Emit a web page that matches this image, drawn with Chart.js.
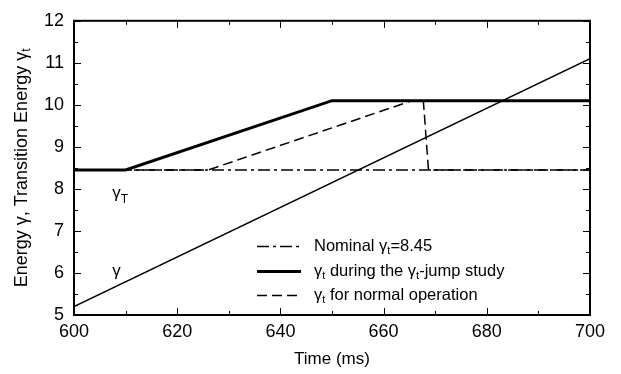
<!DOCTYPE html>
<html><head><meta charset="utf-8">
<script src="https://cdn.jsdelivr.net/npm/chart.js@4"></script>
<style>html,body{margin:0;padding:0;background:#fff}#wrap{width:621px;height:374px}</style>
</head><body><div id="wrap"><canvas id="c" width="621" height="374"></canvas></div>
<script>
const nominalT = [600, 700];
const nominalG = [8.45, 8.45];
const jumpT = [600, 610, 650, 700];
const jumpG = [8.45, 8.45, 10.1, 10.1];
const normalT = [600, 626, 665.5, 667.7, 668.7, 700];
const normalG = [8.45, 8.45, 10.1, 10.1, 8.45, 8.45];
const gammaT = [600, 700];
const gammaG = [5.2, 11.1];
const xTicks = [600, 620, 640, 660, 680, 700];
const yTicks = [5, 6, 7, 8, 9, 10, 11, 12];

const pts = (xs, ys) => xs.map((x, i) => ({x: x, y: ys[i]}));
const FONT = '"Liberation Sans", Arial, sans-serif';

const DASHDOT = [12, 4, 3, 4];
const DASH = [10, 5];

function subText(ctx, x, y, parts, size) {
  let cx = x;
  for (const [t, sub] of parts) {
    ctx.font = (sub ? Math.round(size * 0.68) : size) + 'px ' + FONT;
    ctx.fillText(t, cx, y + (sub ? size * 0.28 : 0));
    cx += ctx.measureText(t).width;
  }
  return cx - x;
}
function measureParts(ctx, parts, size) {
  let w = 0;
  for (const [t, sub] of parts) {
    ctx.font = (sub ? Math.round(size * 0.68) : size) + 'px ' + FONT;
    w += ctx.measureText(t).width;
  }
  return w;
}

const decor = {
  id: 'decor',
  afterDraw(chart) {
    const ctx = chart.ctx, a = chart.chartArea;
    const xs = chart.scales.x, ys = chart.scales.y;
    ctx.save();
    ctx.strokeStyle = '#000';
    ctx.fillStyle = '#000';
    ctx.lineWidth = 2;
    ctx.setLineDash([]);
    ctx.strokeRect(a.left, a.top, a.right - a.left, a.bottom - a.top);
    ctx.lineWidth = 1;
    ctx.beginPath();
    for (let v = 600; v <= 700; v += 10) {
      const p = Math.round(xs.getPixelForValue(v)) + 0.5;
      const L = (v % 20 === 0) ? 7 : 4;
      ctx.moveTo(p, a.bottom); ctx.lineTo(p, a.bottom - L);
      ctx.moveTo(p, a.top); ctx.lineTo(p, a.top + L);
    }
    for (let v = 5; v <= 12.001; v += 0.5) {
      const p = Math.round(ys.getPixelForValue(v)) + 0.5;
      const L = (Math.abs(v - Math.round(v)) < 1e-6) ? 7 : 4;
      ctx.moveTo(a.left, p); ctx.lineTo(a.left + L, p);
      ctx.moveTo(a.right, p); ctx.lineTo(a.right - L, p);
    }
    ctx.stroke();

    ctx.textBaseline = 'alphabetic';
    ctx.textAlign = 'left';
    subText(ctx, xs.getPixelForValue(607.4), ys.getPixelForValue(7.78), [['γ', false], ['T', true]], 17);
    subText(ctx, xs.getPixelForValue(607.4), ys.getPixelForValue(5.92), [['γ', false]], 17);

    const rows = [
      {y: 246, lw: 1.5, dash: DASHDOT, parts: [['Nominal γ', false], ['t', true], ['=8.45', false]]},
      {y: 271, lw: 3, dash: [], parts: [['γ', false], ['t', true], [' during the γ', false], ['t', true], ['-jump study', false]]},
      {y: 295, lw: 1.5, dash: DASH, parts: [['γ', false], ['t', true], [' for normal operation', false]]}
    ];
    for (const r of rows) {
      ctx.lineWidth = r.lw;
      ctx.setLineDash(r.dash);
      ctx.beginPath();
      ctx.moveTo(257, r.y + 0.5); ctx.lineTo(301, r.y + 0.5);
      ctx.stroke();
      ctx.setLineDash([]);
      ctx.textBaseline = 'middle';
      subText(ctx, 314, r.y, r.parts, 16.5);
    }

    const yparts = [['Energy γ, Transition Energy γ', false], ['t', true]];
    const w = measureParts(ctx, yparts, 18);
    ctx.translate(22, (a.top + a.bottom) / 2);
    ctx.rotate(-Math.PI / 2);
    ctx.textBaseline = 'middle';
    subText(ctx, -w / 2, 0, yparts, 18);
    ctx.restore();
  }
};

new Chart(document.getElementById('c'), {
  type: 'line',
  data: {
    datasets: [
      {label: 'Nominal', data: pts(nominalT, nominalG), borderColor: '#000', borderWidth: 1.5, borderDash: DASHDOT, pointRadius: 0, fill: false},
      {label: 'Jump', data: pts(jumpT, jumpG), borderColor: '#000', borderWidth: 3, pointRadius: 0, fill: false},
      {label: 'Normal', data: pts(normalT, normalG), borderColor: '#000', borderWidth: 1.5, borderDash: DASH, pointRadius: 0, fill: false},
      {label: 'Gamma', data: pts(gammaT, gammaG), borderColor: '#000', borderWidth: 1.5, pointRadius: 0, fill: false}
    ]
  },
  options: {
    responsive: false,
    animation: false,
    devicePixelRatio: 1,
    layout: {padding: {top: 7, right: 31, left: 0, bottom: 0}},
    plugins: {legend: {display: false}, tooltip: {enabled: false}},
    elements: {line: {tension: 0, borderCapStyle: 'butt', borderJoinStyle: 'miter'}},
    scales: {
      x: {
        type: 'linear', min: 600, max: 700,
        afterBuildTicks: s => { s.ticks = xTicks.map(v => ({value: v})); },
        afterFit: s => { s.height = 59; },
        grid: {display: false, drawTicks: false},
        border: {display: false},
        ticks: {color: '#000', font: {family: FONT, size: 18}, padding: 6, maxRotation: 0},
        title: {display: true, text: 'Time (ms)', color: '#000', font: {family: FONT, size: 17}, padding: {top: 1}}
      },
      y: {
        type: 'linear', min: 5, max: 12,
        afterBuildTicks: s => { s.ticks = yTicks.map(v => ({value: v})); },
        afterFit: s => { s.width = 74; },
        grid: {display: false, drawTicks: false},
        border: {display: false},
        ticks: {color: '#000', font: {family: FONT, size: 18}, padding: 10}
      }
    }
  },
  plugins: [decor]
});
</script>
</body></html>
